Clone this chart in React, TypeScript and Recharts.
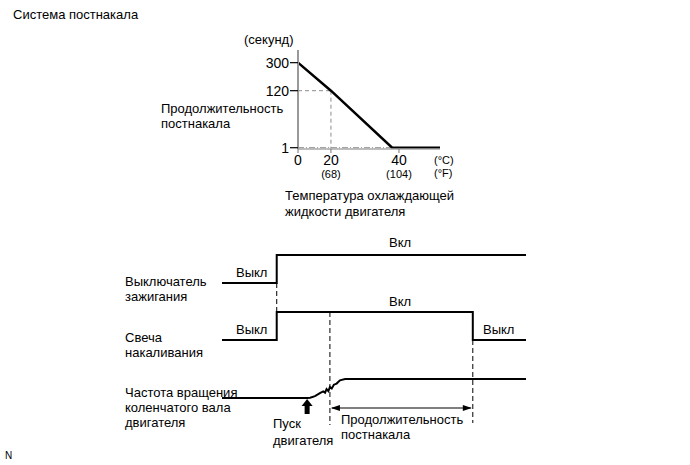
import React from "react";
import { Line, LineChart, ReferenceLine, XAxis, YAxis } from "recharts";

const FONT = '"Liberation Sans", Arial, sans-serif';
const GUIDE = "#8c8c8c";

// afterglow duration vs coolant temperature
const tempC = [0, 20, 38, 50];
const glowSec = [300, 120, 1, 1];
const tempTicks = [0, 20, 40];
const tempF = ["", "(68)", "(104)"];
const secTicks = [1, 120, 300];

// timing diagram (time in arbitrary units)
const igTime = [0, 18, 100];
const igLevel = [0, 1, 1];
const glowTime = [0, 18, 82.5, 100];
const glowLevel = [0, 1, 0, 0];
const crankTime = [0, 28, 29, 30.6, 32.2, 33.3, 33.9, 34.4, 35, 35.5, 36.1, 36.8, 37.7, 38.8, 40.5, 100];
const crankLevel = [0, 0, 0.01, 0.1, 0.26, 0.35, 0.28, 0.47, 0.36, 0.58, 0.5, 0.7, 0.76, 0.93, 1, 1];
const startTime = 28;
const afterStart = 35.5;
const afterEnd = 82.5;

const curve = tempC.map((t, i) => ({ t, s: glowSec[i] }));
const zip = (ts: number[], vs: number[]) => ts.map((t, i) => ({ t, v: vs[i] }));

// schematic (non-linear) axis scale: piecewise linear between knots
function knotScale(knots: number[], fracs: number[]): any {
  let dom = [knots[0], knots[knots.length - 1]];
  let rng = [0, 1];
  const s: any = (v: number) => {
    let i = 0;
    while (i < knots.length - 2 && v > knots[i + 1]) i++;
    const k = (v - knots[i]) / (knots[i + 1] - knots[i]);
    const f = fracs[i] + k * (fracs[i + 1] - fracs[i]);
    return rng[0] + f * (rng[1] - rng[0]);
  };
  s.domain = (d?: number[]) => {
    if (!d) return dom;
    dom = [...d];
    return s;
  };
  s.range = (r?: number[]) => {
    if (!r) return rng;
    rng = [...r];
    return s;
  };
  s.copy = () => knotScale(knots, fracs);
  s.ticks = () => knots;
  s.tickFormat = () => (v: number) => String(v);
  s.clamp = () => s;
  return s;
}

const xScale = knotScale([0, 20, 40, 50], [0, 0.232, 0.711, 1]);
const yScale = knotScale([0, 1, 120, 300, 350], [0, 0.013, 0.589, 0.872, 1]);

// timing chart rows: pixel of level 0 and level 1 inside a 690x465 frame
const T_TOP = 245;
const T_BOT = 430;
const rows = {
  ig: [283, 255],
  glow: [340, 312],
  crank: [398, 379],
};
function rowDomain([lo, hi]: number[]) {
  const d0 = -(T_BOT - lo) / (lo - hi);
  return [d0, d0 + (T_BOT - T_TOP) / (lo - hi)];
}
const lvl = ([lo, hi]: number[], px: number) => (lo - px) / (lo - hi);

function XTick({ x, y, payload }: any) {
  const i = tempTicks.indexOf(payload.value);
  return (
    <g fontFamily={FONT}>
      <text x={x} y={y + 10} textAnchor="middle" fontSize={14} fill="#000">
        {payload.value}
      </text>
      {tempF[i] && (
        <text x={x} y={y + 23} textAnchor="middle" fontSize={11} fill="#000">
          {tempF[i]}
        </text>
      )}
    </g>
  );
}

function DoubleArrow({ x1, y1, x2 }: any) {
  return (
    <g>
      <line x1={x1 + 2} y1={y1} x2={x2 - 2} y2={y1} stroke="#000" strokeWidth={1.2} />
      <polygon points={`${x1 + 1},${y1} ${x1 + 10},${y1 - 3} ${x1 + 10},${y1 + 3}`} fill="#000" />
      <polygon points={`${x2 - 1},${y1} ${x2 - 10},${y1 - 3} ${x2 - 10},${y1 + 3}`} fill="#000" />
    </g>
  );
}

function UpArrow({ x1, y1, y2 }: any) {
  return (
    <g>
      <rect x={x1 - 2.5} y={y2 + 6} width={5} height={y1 - y2 - 6} fill="#000" />
      <polygon points={`${x1},${y2} ${x1 - 5.5},${y2 + 7} ${x1 + 5.5},${y2 + 7}`} fill="#000" />
    </g>
  );
}

const txt = (left: number, top: number, lh = 15, size = 13): React.CSSProperties => ({
  position: "absolute",
  left,
  top,
  fontSize: size,
  lineHeight: `${lh}px`,
  whiteSpace: "nowrap",
});

export default function App() {
  return (
    <div
      style={{
        position: "absolute",
        left: 0,
        top: 0,
        width: 690,
        height: 465,
        background: "#fff",
        fontFamily: FONT,
        color: "#000",
        overflow: "hidden",
      }}
    >
      <div style={{ position: "absolute", left: 0, top: 0 }}>
        <LineChart width={690} height={465} data={curve} margin={{ top: 50, right: 250, bottom: 286, left: 248 }}>
          <XAxis
            dataKey="t"
            type="number"
            domain={[0, 50]}
            scale={xScale}
            ticks={tempTicks}
            tick={<XTick />}
            height={30}
            tickSize={4}
            tickMargin={2}
            axisLine={{ stroke: "#a8a8a8", strokeWidth: 1.5 }}
            tickLine={{ stroke: "#777" }}
          />
          <YAxis
            type="number"
            domain={[0, 350]}
            scale={yScale}
            ticks={secTicks}
            width={50}
            tickSize={8}
            tickMargin={1}
            tick={{ fontSize: 14, fill: "#000", fontFamily: FONT }}
            axisLine={{ stroke: "#999", strokeWidth: 2 }}
            tickLine={{ stroke: "#000", strokeWidth: 1.2 }}
          />
          <ReferenceLine
            segment={[{ x: 0, y: 120 }, { x: 20, y: 120 }]}
            stroke={GUIDE}
            strokeDasharray="4 3"
          />
          <ReferenceLine
            segment={[{ x: 20, y: 120 }, { x: 20, y: 0 }]}
            stroke={GUIDE}
            strokeDasharray="4 3"
          />
          <ReferenceLine
            segment={[{ x: 0, y: 1 }, { x: 38, y: 1 }]}
            stroke={GUIDE}
            strokeDasharray="6 2 1 2"
          />
          <Line
            dataKey="s"
            type="linear"
            stroke="#000"
            strokeWidth={2.5}
            dot={false}
            isAnimationActive={false}
          />
        </LineChart>
      </div>

      <div style={{ position: "absolute", left: 0, top: 0 }}>
        <LineChart width={690} height={465} margin={{ top: T_TOP, right: 164, bottom: 465 - T_BOT, left: 222 }}>
          <XAxis dataKey="t" type="number" domain={[0, 100]} hide />
          <YAxis yAxisId="ig" type="number" domain={rowDomain(rows.ig)} hide />
          <YAxis yAxisId="glow" type="number" domain={rowDomain(rows.glow)} hide />
          <YAxis yAxisId="crank" type="number" domain={rowDomain(rows.crank)} hide />
          <ReferenceLine
            yAxisId="ig"
            segment={[{ x: 18, y: 0 }, { x: 18, y: lvl(rows.ig, 312) }]}
            stroke="#000"
            strokeDasharray="5 3"
          />
          <ReferenceLine
            yAxisId="glow"
            segment={[{ x: afterStart, y: 1 }, { x: afterStart, y: lvl(rows.glow, 425) }]}
            stroke="#000"
            strokeDasharray="5 3"
          />
          <ReferenceLine
            yAxisId="glow"
            segment={[{ x: afterEnd, y: 0 }, { x: afterEnd, y: lvl(rows.glow, 423) }]}
            stroke="#000"
            strokeDasharray="5 3"
          />
          <ReferenceLine
            yAxisId="crank"
            segment={[{ x: afterStart, y: lvl(rows.crank, 408) }, { x: afterEnd, y: lvl(rows.crank, 408) }]}
            shape={(p: any) => <DoubleArrow {...p} />}
          />
          <ReferenceLine
            yAxisId="crank"
            segment={[{ x: startTime, y: lvl(rows.crank, 414) }, { x: startTime, y: lvl(rows.crank, 399) }]}
            shape={(p: any) => <UpArrow {...p} />}
          />
          <Line
            yAxisId="ig"
            data={zip(igTime, igLevel)}
            dataKey="v"
            type="stepAfter"
            stroke="#000"
            strokeWidth={2}
            dot={false}
            isAnimationActive={false}
          />
          <Line
            yAxisId="glow"
            data={zip(glowTime, glowLevel)}
            dataKey="v"
            type="stepAfter"
            stroke="#000"
            strokeWidth={2}
            dot={false}
            isAnimationActive={false}
          />
          <Line
            yAxisId="crank"
            data={zip(crankTime, crankLevel)}
            dataKey="v"
            type="linear"
            stroke="#000"
            strokeWidth={2}
            dot={false}
            isAnimationActive={false}
          />
        </LineChart>
      </div>

      <div style={txt(13, 7)}>Система постнакала</div>
      <div style={txt(244, 32)}>(секунд)</div>
      <div style={txt(161, 101)}>
        Продолжительность
        <br />
        постнакала
      </div>
      <div style={txt(434, 154, 13, 11)}>
        (°C)
        <br />
        (°F)
      </div>
      <div style={txt(285, 188, 16)}>
        Температура охлаждающей
        <br />
        жидкости двигателя
      </div>

      <div style={txt(389, 235)}>Вкл</div>
      <div style={txt(236, 265)}>Выкл</div>
      <div style={txt(125, 274)}>
        Выключатель
        <br />
        зажигания
      </div>
      <div style={txt(389, 294)}>Вкл</div>
      <div style={txt(236, 322)}>Выкл</div>
      <div style={txt(483, 322)}>Выкл</div>
      <div style={txt(125, 330)}>
        Свеча
        <br />
        накаливания
      </div>
      <div style={txt(125, 385)}>
        Частота вращения
        <br />
        коленчатого вала
        <br />
        двигателя
      </div>
      <div style={txt(273, 415, 17)}>
        Пуск
        <br />
        двигателя
      </div>
      <div style={txt(341, 412)}>
        Продолжительность
        <br />
        постнакала
      </div>
      <div style={txt(5, 449, 14, 10)}>N</div>
    </div>
  );
}
